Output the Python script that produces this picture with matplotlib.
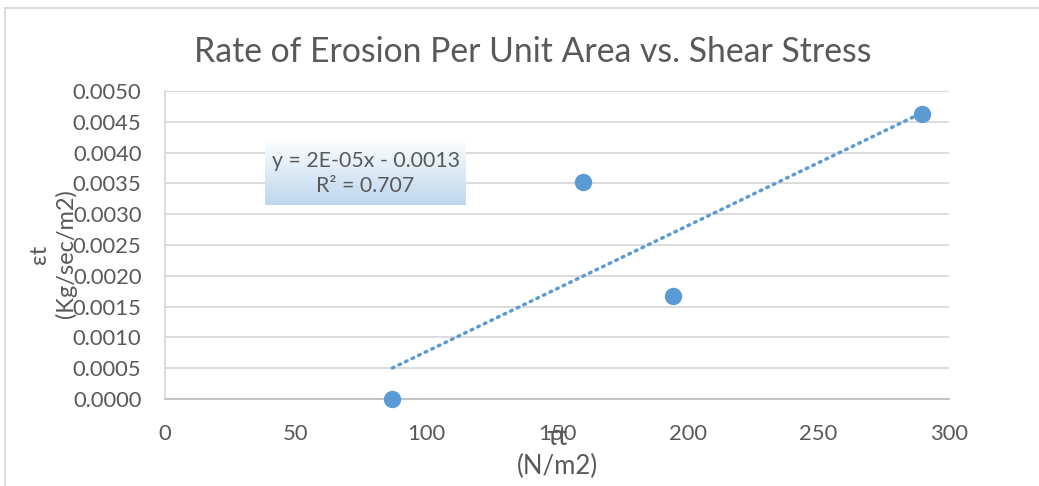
import matplotlib.pyplot as plt
from matplotlib.patches import Rectangle
import numpy as np

# shear stress (N/m2) and erosion rate per unit area (Kg/sec/m2)
shear = [87, 160, 194.5, 289.5]
erosion = [0.0, 0.00353, 0.00168, 0.00463]
eq_text = 'y = 2E-05x - 0.0013\nR² = 0.707'

blue = '#5b9bd5'
grey = '#595959'
plt.rcParams['font.family'] = ['Lato', 'DejaVu Sans']

fig = plt.figure(figsize=(10.39, 4.86), dpi=100)
ax = fig.add_axes([165/1039, 1 - 399/486, 784/1039, 308/486])

# chart area border
fig.patches.append(Rectangle((5/1039, -0.1), 1.2, 1 - 8/486 + 0.1, transform=fig.transFigure,
                             fill=False, edgecolor='#d9d9d9', lw=1.3))

# linear trendline
k, b = np.polyfit(shear, erosion, 1)
xs = np.array([min(shear), max(shear)])
ax.plot(xs, k * xs + b, color=blue, lw=2.5, linestyle=(0, (0.5, 1.6)),
        dash_capstyle='round', zorder=3)
ax.plot(shear, erosion, 'o', color=blue, markersize=11.5, zorder=4, clip_on=False)

ax.set_xlim(0, 300)
ax.set_ylim(0, 0.005)
ax.set_xticks(np.arange(0, 301, 50))
ax.set_yticks(np.arange(0, 0.00501, 0.0005))
ax.set_yticklabels(['%.4f' % v for v in np.arange(0, 0.00501, 0.0005)])
ax.grid(axis='y', color='#d9d9d9', lw=1.3)
ax.set_axisbelow(True)
for s in ['top', 'right']:
    ax.spines[s].set_visible(False)
ax.spines['bottom'].set_color('#bfbfbf')
ax.spines['bottom'].set_linewidth(1.3)
ax.spines['left'].set_color('#d9d9d9')
ax.spines['left'].set_linewidth(1.3)
ax.tick_params(length=0, labelsize=15.8, colors=grey)
ax.tick_params(axis='y', pad=17)
ax.tick_params(axis='x', pad=18)

fig.text(533/1039, 1 - 52/486, 'Rate of Erosion Per Unit Area vs. Shear Stress',
         ha='center', va='center', fontsize=24.3, color=grey)
fig.text(53/1039, 1 - 254/486, 'εt\n(Kg/sec/m2)', rotation=90, ha='center', va='center',
         fontsize=17, color=grey, linespacing=1.3)
fig.text(557/1039, 1 - 452/486, 'τt\n(N/m2)', ha='center', va='center',
         fontsize=18.5, color=grey, linespacing=1.15)

# equation box with a white-to-blue gradient
bx0, by0, bw, bh = 265/1039, 1 - 205/486, 201/1039, 67/486
grad = np.linspace(0, 1, 100).reshape(-1, 1)
c_top = np.array([1.0, 1.0, 1.0])
c_bot = np.array([0.74, 0.84, 0.93])
img = c_top + (c_bot - c_top) * grad[..., None] * np.ones((1, 1, 3))
gax = fig.add_axes([bx0, by0, bw, bh], zorder=5)
gax.imshow(img, aspect='auto', extent=[0, 1, 0, 1])
gax.axis('off')
gax.text(0.5, 0.47, eq_text, ha='center', va='center', fontsize=15.3, color=grey,
         linespacing=1.35)

fig.savefig('out.png', dpi=100)
